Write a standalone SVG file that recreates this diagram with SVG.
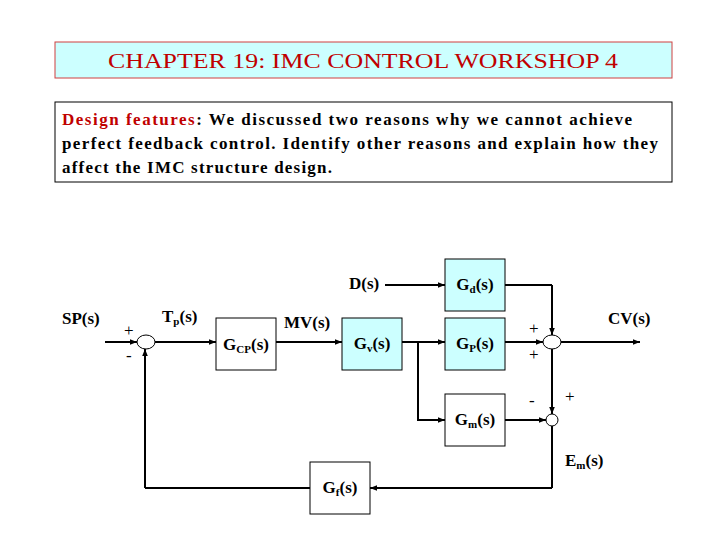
<svg xmlns="http://www.w3.org/2000/svg" width="720" height="540" viewBox="0 0 720 540">
<defs><marker id="a" viewBox="0 0 10 10" refX="10" refY="5" markerWidth="7" markerHeight="7" orient="auto" markerUnits="userSpaceOnUse"><path d="M0,1 L10,5 L0,9 z" fill="#000"/></marker></defs>
<style>
text{font-family:"Liberation Serif",serif;font-weight:bold;font-size:17px;fill:#000}
.b{fill:#fff;stroke:#000;stroke-width:1}
.c{fill:#ccffff;stroke:#000;stroke-width:1}
.l{fill:none;stroke:#000;stroke-width:2;marker-end:url(#a)}
.n{fill:none;stroke:#000;stroke-width:2}
.s{font-weight:normal;font-size:17px}
</style>
<rect width="720" height="540" fill="#fff"/>
<g id="title"><rect x="55" y="42" width="617" height="36" fill="#ccffff" stroke="#d04040"/>
<text x="108" y="68" textLength="510" lengthAdjust="spacingAndGlyphs" style="font-weight:normal;font-size:20px;fill:#c00000">CHAPTER 19: IMC CONTROL  WORKSHOP 4</text></g>
<g id="question"><rect x="55" y="102" width="617" height="80" fill="#fff" stroke="#000"/>
<text x="62" y="125" textLength="570" lengthAdjust="spacing"><tspan fill="#c00000">Design features</tspan>:  We discussed two reasons why we cannot achieve</text>
<text x="62" y="149" textLength="596" lengthAdjust="spacing">perfect feedback control.  Identify other reasons and explain how they</text>
<text x="62" y="173" textLength="270" lengthAdjust="spacing">affect the IMC structure design.</text></g>
<g id="connectors">
<path class="l" d="M105,342 H137"/>
<path class="l" d="M155,342 H216"/>
<path class="l" d="M276,342 H342"/>
<path class="n" d="M402,342 H418"/>
<path class="l" d="M418,342 H445"/>
<path class="l" d="M418,342 V420 H445"/>
<path class="l" d="M385,285 H445"/>
<path class="n" d="M505,285 H552"/>
<path class="l" d="M552,285 V335"/>
<path class="l" d="M505,342 H543"/>
<path class="l" d="M561,342 H640"/>
<path class="l" d="M552,349 V414"/>
<path class="l" d="M505,420 H546"/>
<path class="n" d="M552,426 V488"/>
<path class="l" d="M552,488 H370"/>
<path class="n" d="M310,488 H145"/>
<path class="l" d="M145,488 V349"/>
</g>
<g id="sum1"><ellipse cx="146" cy="342" rx="9" ry="7" class="b"/><text class="s" x="124" y="336">+</text><text class="s" x="126" y="361">-</text></g>
<g id="sum2"><ellipse cx="552" cy="342" rx="9" ry="7" class="b"/><text class="s" x="529" y="334">+</text><text class="s" x="529" y="360">+</text></g>
<g id="sum3"><ellipse cx="552" cy="420" rx="6" ry="6" class="b"/><text class="s" x="529" y="406">-</text><text class="s" x="565" y="402">+</text></g>
<g id="Gcp"><rect x="216" y="318" width="60" height="52" class="b"/><text x="246" y="350" text-anchor="middle">G<tspan font-size="11" dy="3">CP</tspan><tspan dy="-3">(s)</tspan></text></g>
<g id="Gv"><rect x="342" y="318" width="60" height="52" class="c"/><text x="372" y="349" text-anchor="middle">G<tspan font-size="11" dy="3">v</tspan><tspan dy="-3">(s)</tspan></text></g>
<g id="Gp"><rect x="445" y="318" width="60" height="52" class="c"/><text x="475" y="349" text-anchor="middle">G<tspan font-size="11" dy="3">P</tspan><tspan dy="-3">(s)</tspan></text></g>
<g id="Gd"><rect x="445" y="259" width="60" height="52" class="c"/><text x="475" y="290" text-anchor="middle">G<tspan font-size="11" dy="3">d</tspan><tspan dy="-3">(s)</tspan></text></g>
<g id="Gm"><rect x="445" y="394" width="60" height="52" class="b"/><text x="475" y="425" text-anchor="middle">G<tspan font-size="11" dy="3">m</tspan><tspan dy="-3">(s)</tspan></text></g>
<g id="Gf"><rect x="310" y="462" width="60" height="52" class="b"/><text x="340" y="493" text-anchor="middle">G<tspan font-size="11" dy="3">f</tspan><tspan dy="-3">(s)</tspan></text></g>
<g id="labels">
<text x="62" y="324">SP(s)</text>
<text x="162" y="322">T<tspan font-size="11" dy="3">p</tspan><tspan dy="-3">(s)</tspan></text>
<text x="284" y="328">MV(s)</text>
<text x="349" y="289">D(s)</text>
<text x="608" y="324">CV(s)</text>
<text x="565" y="466">E<tspan font-size="11" dy="3">m</tspan><tspan dy="-3">(s)</tspan></text>
</g>
</svg>
